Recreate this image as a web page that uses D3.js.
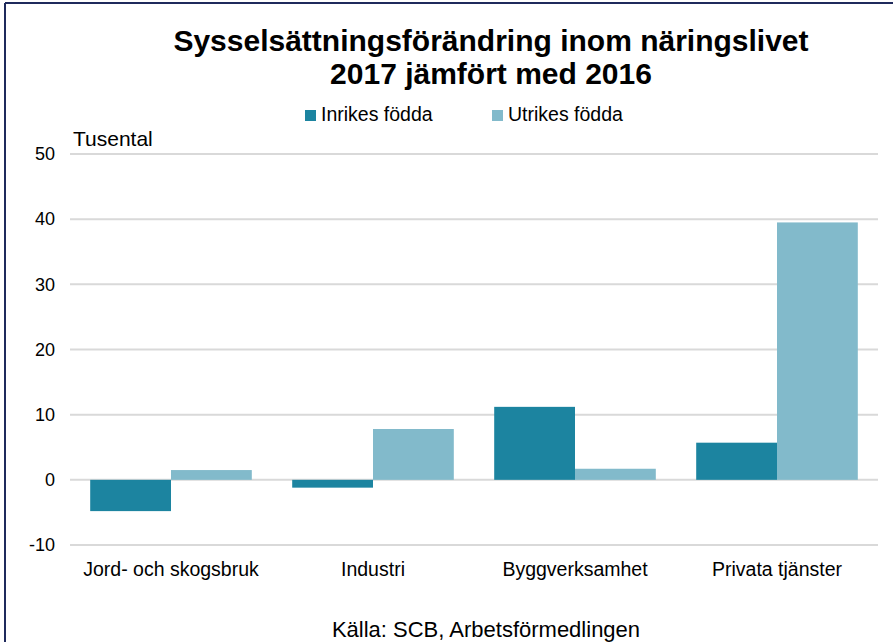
<!DOCTYPE html>
<html>
<head>
<meta charset="utf-8">
<script src="https://cdn.jsdelivr.net/npm/d3@7"></script>
<style>
  body { margin: 0; background: #fff; }
  svg { display: block; font-family: "Liberation Sans", Arial, sans-serif; }
</style>
</head>
<body>
<svg id="chart" width="893" height="642"></svg>
<script>
// Data
const categories = ["Jord- och skogsbruk", "Industri", "Byggverksamhet", "Privata tjänster"];
const seriesNames = ["Inrikes födda", "Utrikes födda"];
const inrikes = [-4.8, -1.2, 11.2, 5.7];
const utrikes = [1.5, 7.8, 1.7, 39.5];
const yTicks = [-10, 0, 10, 20, 30, 40, 50];

const colors = ["#1c84a0", "#82bacb"];

const svg = d3.select("#chart");
const width = 893, height = 642;

// frame (only top and left edges are visible in the picture)
svg.append("line").attr("x1", 5).attr("x2", width).attr("y1", 3).attr("y2", 3)
    .attr("stroke", "#1f2a5c").attr("stroke-width", 2);
svg.append("line").attr("x1", 5).attr("x2", 5).attr("y1", 3).attr("y2", height)
    .attr("stroke", "#1f2a5c").attr("stroke-width", 2);

const marginLeft = 70, marginRight = 15, marginTop = 154, marginBottom = 97;

const x = d3.scaleBand()
    .domain(categories)
    .range([marginLeft, width - marginRight])
    .paddingInner(0.2)
    .paddingOuter(0.1);

const xSub = d3.scaleBand()
    .domain(seriesNames)
    .range([0, x.bandwidth()]);

const y = d3.scaleLinear()
    .domain([-10, 50])
    .range([height - marginBottom, marginTop]);

// gridlines
svg.append("g")
    .selectAll("line")
    .data(yTicks)
    .join("line")
    .attr("x1", marginLeft)
    .attr("x2", width - marginRight)
    .attr("y1", d => y(d))
    .attr("y2", d => y(d))
    .attr("stroke", "#d9d9d9")
    .attr("stroke-width", 2);

// y axis labels (plain hyphen for negatives, like the original)
const yAxis = svg.append("g")
    .attr("transform", `translate(${marginLeft - 15},0)`)
    .call(d3.axisLeft(y).tickValues(yTicks).tickFormat(d => String(d)).tickSize(0).tickPadding(0));
yAxis.select(".domain").remove();
yAxis.selectAll("text")
    .attr("font-size", 18)
    .attr("font-family", "Liberation Sans, Arial, sans-serif")
    .attr("fill", "#000");

// bars
const rows = categories.map((c, i) => ({ cat: c, values: [inrikes[i], utrikes[i]] }));

svg.append("g")
    .selectAll("g")
    .data(rows)
    .join("g")
    .attr("transform", d => `translate(${x(d.cat)},0)`)
    .selectAll("rect")
    .data(d => d.values.map((v, j) => ({ name: seriesNames[j], value: v, j: j })))
    .join("rect")
    .attr("x", d => xSub(d.name))
    .attr("width", xSub.bandwidth())
    .attr("y", d => y(Math.max(0, d.value)))
    .attr("height", d => Math.abs(y(d.value) - y(0)))
    .attr("fill", d => colors[d.j]);

// category labels
svg.append("g")
    .selectAll("text")
    .data(categories)
    .join("text")
    .attr("x", d => x(d) + x.bandwidth() / 2)
    .attr("y", 576)
    .attr("text-anchor", "middle")
    .attr("font-size", 19.5)
    .text(d => d);

// title
const title = svg.append("text")
    .attr("x", 491)
    .attr("text-anchor", "middle")
    .attr("font-size", 30)
    .attr("font-weight", "bold");
title.append("tspan").attr("x", 491).attr("y", 51).text("Sysselsättningsförändring inom näringslivet");
title.append("tspan").attr("x", 491).attr("y", 84).text("2017 jämfört med 2016");

// legend
const legendX = [305, 492];
const legend = svg.append("g")
    .selectAll("g")
    .data(seriesNames)
    .join("g")
    .attr("transform", (d, i) => `translate(${legendX[i]},110)`);
legend.append("rect").attr("width", 11).attr("height", 11).attr("fill", (d, i) => colors[i]);
legend.append("text").attr("x", 16).attr("y", 11).attr("font-size", 19.5).text(d => d);

// unit label
svg.append("text").attr("x", 73).attr("y", 146).attr("font-size", 21).text("Tusental");

// source
svg.append("text").attr("x", 486).attr("y", 637).attr("text-anchor", "middle")
    .attr("font-size", 22).text("Källa: SCB, Arbetsförmedlingen");
</script>
</body>
</html>
